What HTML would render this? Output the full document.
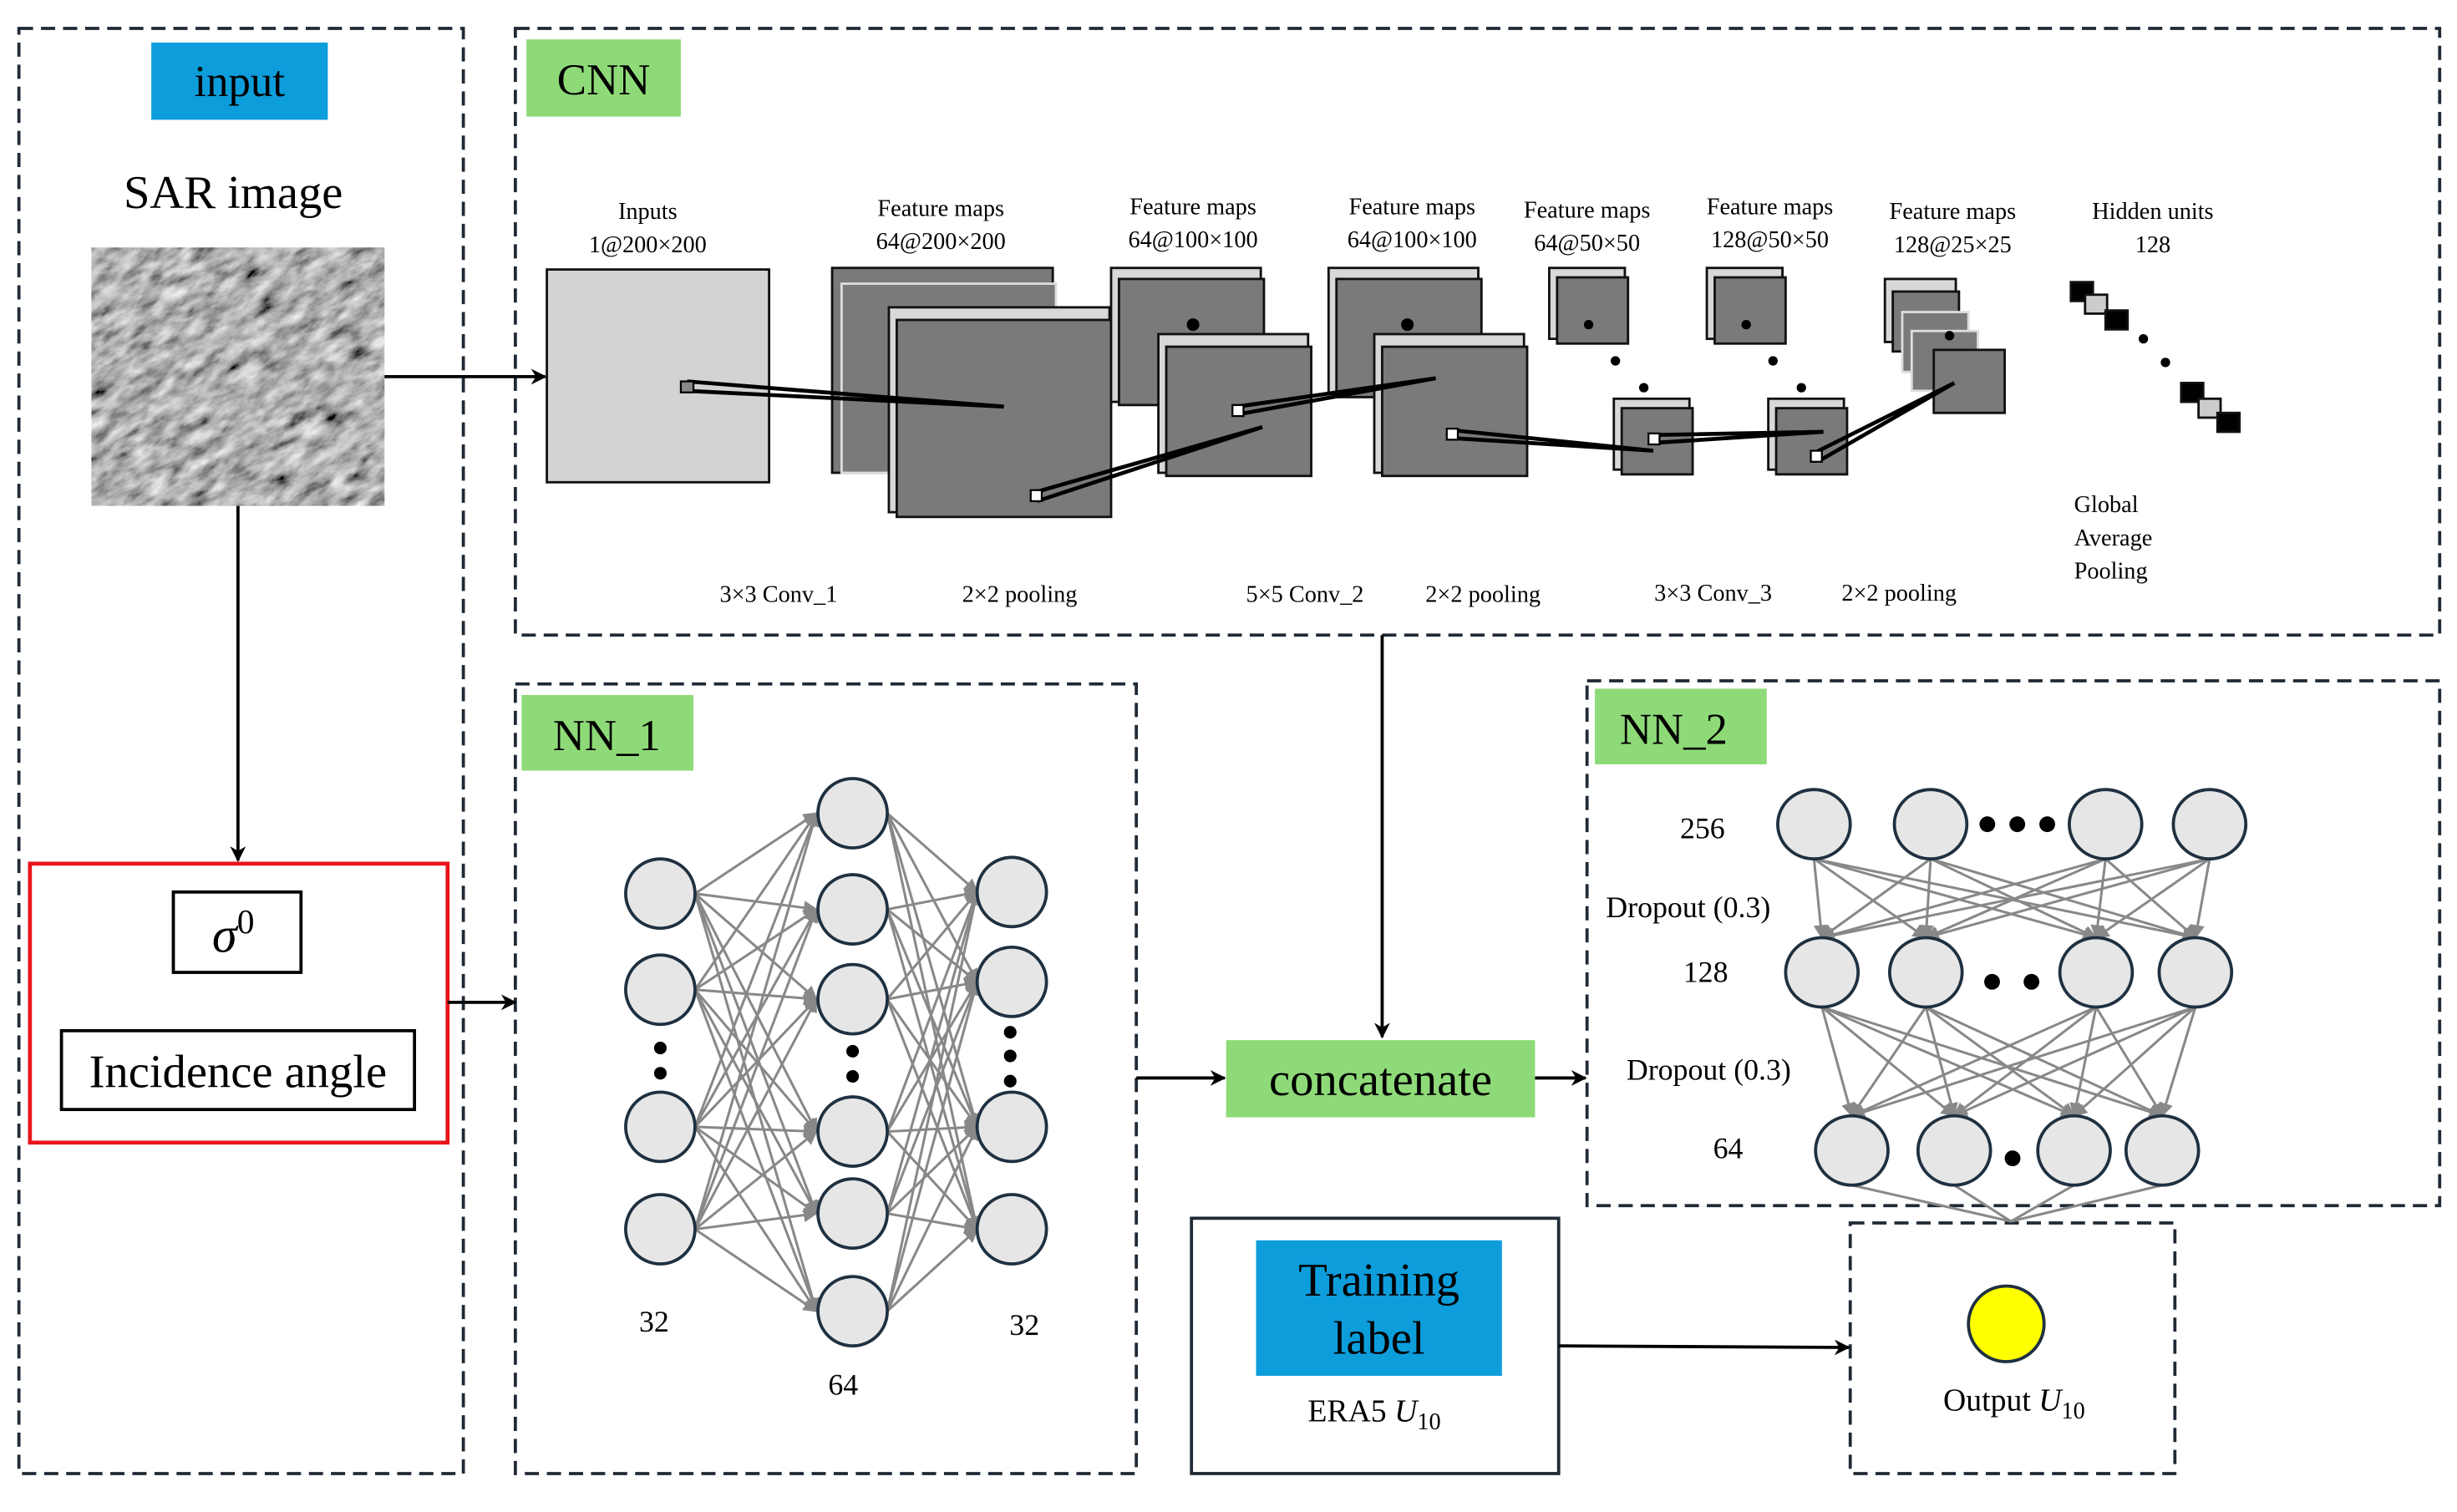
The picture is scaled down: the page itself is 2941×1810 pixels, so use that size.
<!DOCTYPE html>
<html><head><meta charset="utf-8">
<style>
html,body{margin:0;padding:0;background:#fff;}
svg{display:block;}
text{font-family:"Liberation Serif",serif;fill:#000;}
</style></head><body>
<svg width="2941" height="1810" viewBox="0 0 1559 959.4" preserveAspectRatio="none" xmlns="http://www.w3.org/2000/svg">
<defs>
<marker id="ah" markerWidth="10" markerHeight="10" refX="9" refY="5" orient="auto" markerUnits="userSpaceOnUse"><path d="M0,0 L10,5 L0,10 L3,5 z" fill="#000"/></marker>
<marker id="ag" markerWidth="9" markerHeight="9" refX="8" refY="4.5" orient="auto" markerUnits="userSpaceOnUse"><path d="M0,0 L9,4.5 L0,9 z" fill="#888"/></marker>
<filter id="noise" x="0" y="0" width="100%" height="100%">
<feTurbulence type="fractalNoise" baseFrequency="0.06 0.14" numOctaves="4" seed="7"/>
<feColorMatrix type="matrix" values="0.33 0.33 0.33 0 0  0.33 0.33 0.33 0 0  0.33 0.33 0.33 0 0  0 0 0 0 1"/>
<feComponentTransfer><feFuncR type="linear" slope="2.0" intercept="-0.55"/><feFuncG type="linear" slope="2.0" intercept="-0.55"/><feFuncB type="linear" slope="2.0" intercept="-0.55"/></feComponentTransfer>
</filter>
<clipPath id="sarclip"><rect x="58" y="157" width="186" height="164"/></clipPath>
</defs>
<rect width="1559" height="960" fill="#fff"/>
<g fill="none" stroke="#1f2a36" stroke-width="2" stroke-dasharray="9,5">
<rect x="12" y="18" width="282" height="917"/>
<rect x="327" y="18" width="1221" height="385"/>
<rect x="327" y="434" width="394" height="501"/>
<rect x="1007" y="432" width="541" height="333"/>
<rect x="1174" y="776" width="206" height="159"/>
</g>
<!-- input -->
<rect x="96" y="27" width="112" height="49" fill="#0d9ddb"/>
<text x="152" y="61" font-size="28" text-anchor="middle">input</text>
<text x="148" y="132" font-size="30" text-anchor="middle">SAR image</text>
<g clip-path="url(#sarclip)"><rect x="20" y="120" width="262" height="240" filter="url(#noise)" transform="rotate(-30 151 239)"/></g>
<line x1="151" y1="321" x2="151" y2="546" stroke="#000" stroke-width="2" marker-end="url(#ah)"/>
<line x1="244" y1="239" x2="346" y2="239" stroke="#000" stroke-width="2" marker-end="url(#ah)"/>
<rect x="19" y="548" width="265" height="177" fill="none" stroke="#e8141a" stroke-width="2.5"/>
<rect x="110" y="566" width="81" height="51" fill="#fff" stroke="#000" stroke-width="2"/>
<text x="148" y="604" font-size="32" text-anchor="middle" font-style="italic">σ<tspan font-size="22" dy="-12" font-style="normal">0</tspan></text>
<rect x="39" y="654" width="224" height="50" fill="#fff" stroke="#000" stroke-width="2"/>
<text x="151" y="690" font-size="30" text-anchor="middle">Incidence angle</text>
<line x1="284" y1="636" x2="327" y2="636" stroke="#000" stroke-width="2" marker-end="url(#ah)"/>
<!-- CNN -->
<rect x="334" y="25" width="98" height="49" fill="#8fda78"/>
<text x="383" y="60" font-size="28" text-anchor="middle">CNN</text>
<g font-size="15" text-anchor="middle">
<text x="411" y="139">Inputs</text><text x="411" y="160">1@200×200</text>
<text x="597" y="137">Feature maps</text><text x="597" y="158">64@200×200</text>
<text x="757" y="136">Feature maps</text><text x="757" y="157">64@100×100</text>
<text x="896" y="136">Feature maps</text><text x="896" y="157">64@100×100</text>
<text x="1007" y="138">Feature maps</text><text x="1007" y="159">64@50×50</text>
<text x="1123" y="136">Feature maps</text><text x="1123" y="157">128@50×50</text>
<text x="1239" y="139">Feature maps</text><text x="1239" y="160">128@25×25</text>
<text x="1366" y="139">Hidden units</text><text x="1366" y="160">128</text>
<text x="494" y="382">3×3 Conv_1</text><text x="647" y="382">2×2 pooling</text>
<text x="828" y="382">5×5 Conv_2</text><text x="941" y="382">2×2 pooling</text>
<text x="1087" y="381">3×3 Conv_3</text><text x="1205" y="381">2×2 pooling</text>
</g>
<g font-size="15"><text x="1316" y="325">Global</text><text x="1316" y="346">Average</text><text x="1316" y="367">Pooling</text></g>
<g stroke="#111" stroke-width="1.5">
<rect x="347" y="171" width="141" height="135" fill="#d3d3d3"/>
<rect x="528" y="170" width="140" height="130" fill="#7a7a7a"/>
<rect x="534" y="180" width="136" height="120" fill="#7a7a7a" stroke="#ddd"/>
<rect x="564" y="195" width="140" height="130" fill="#d8d8d8"/>
<rect x="569" y="203" width="136" height="125" fill="#7a7a7a"/>
<rect x="705" y="170" width="95" height="85" fill="#d8d8d8"/>
<rect x="710" y="177" width="92" height="80" fill="#7a7a7a"/>
<rect x="735" y="212" width="95" height="88" fill="#d8d8d8"/>
<rect x="740" y="220" width="92" height="82" fill="#7a7a7a"/>
<rect x="843" y="170" width="95" height="80" fill="#d8d8d8"/>
<rect x="848" y="177" width="92" height="75" fill="#7a7a7a"/>
<rect x="872" y="212" width="95" height="88" fill="#d8d8d8"/>
<rect x="877" y="220" width="92" height="82" fill="#7a7a7a"/>
<rect x="983" y="170" width="48" height="45" fill="#d8d8d8"/>
<rect x="988" y="176" width="45" height="42" fill="#7a7a7a"/>
<rect x="1024" y="253" width="48" height="45" fill="#d8d8d8"/>
<rect x="1029" y="259" width="45" height="42" fill="#7a7a7a"/>
<rect x="1083" y="170" width="48" height="45" fill="#d8d8d8"/>
<rect x="1088" y="176" width="45" height="42" fill="#7a7a7a"/>
<rect x="1122" y="253" width="48" height="45" fill="#d8d8d8"/>
<rect x="1127" y="259" width="45" height="42" fill="#7a7a7a"/>
<rect x="1196" y="177" width="45" height="40" fill="#d8d8d8"/>
<rect x="1201" y="185" width="42" height="38" fill="#7a7a7a"/>
<rect x="1207" y="198" width="42" height="38" fill="#7a7a7a" stroke="#ddd"/>
<rect x="1213" y="210" width="42" height="38" fill="#7a7a7a" stroke="#ddd"/>
<rect x="1227" y="222" width="45" height="40" fill="#7a7a7a"/>
</g>
<g fill="#000">
<circle cx="757" cy="206" r="4"/><circle cx="893" cy="206" r="4"/>
<circle cx="1008" cy="206" r="3"/><circle cx="1108" cy="206" r="3"/><circle cx="1237" cy="213" r="3"/>
<circle cx="1025" cy="229" r="3"/><circle cx="1043" cy="246" r="3"/>
<circle cx="1125" cy="229" r="3"/><circle cx="1143" cy="246" r="3"/>
<circle cx="1360" cy="215" r="3"/><circle cx="1374" cy="230" r="3"/>
</g>
<g stroke="#000" stroke-width="2.5" fill="none">
<polyline points="436,242 637,258 436,248"/>
<polyline points="658,312 801,271 658,318"/>
<polyline points="785,258 911,240 785,263"/>
<polyline points="922,273 1049,286 922,278"/>
<polyline points="1050,276 1157,274 1050,281"/>
<polyline points="1152,287 1240,243 1155,292"/>
</g>
<g stroke="#000" stroke-width="1.2" fill="#fff">
<rect x="432" y="242" width="8" height="7" fill="#888"/>
<rect x="654" y="311" width="7" height="7"/>
<rect x="782" y="257" width="7" height="7"/>
<rect x="918" y="272" width="7" height="7"/>
<rect x="1046" y="275" width="7" height="7"/>
<rect x="1149" y="286" width="7" height="7"/>
</g>
<g stroke="#111" stroke-width="1.5">
<rect x="1314" y="179" width="14" height="12" fill="#000"/>
<rect x="1323" y="187" width="14" height="12" fill="#ccc"/>
<rect x="1336" y="197" width="14" height="12" fill="#000"/>
<rect x="1384" y="243" width="14" height="12" fill="#000"/>
<rect x="1395" y="253" width="14" height="12" fill="#ccc"/>
<rect x="1407" y="262" width="14" height="12" fill="#000"/>
</g>
<line x1="877" y1="403" x2="877" y2="658" stroke="#000" stroke-width="2" marker-end="url(#ah)"/>
<!-- NN_1 -->
<rect x="331" y="441" width="109" height="48" fill="#8fda78"/>
<text x="385" y="476" font-size="28" text-anchor="middle">NN_1</text>
<g stroke="#888" stroke-width="1.6" marker-end="url(#ag)">
<line x1="441" y1="567" x2="518" y2="516"/><line x1="441" y1="567" x2="518" y2="577"/><line x1="441" y1="567" x2="518" y2="634"/><line x1="441" y1="567" x2="518" y2="718"/><line x1="441" y1="567" x2="518" y2="770"/><line x1="441" y1="567" x2="518" y2="832"/>
<line x1="441" y1="628" x2="518" y2="516"/><line x1="441" y1="628" x2="518" y2="577"/><line x1="441" y1="628" x2="518" y2="634"/><line x1="441" y1="628" x2="518" y2="718"/><line x1="441" y1="628" x2="518" y2="770"/><line x1="441" y1="628" x2="518" y2="832"/>
<line x1="441" y1="715" x2="518" y2="516"/><line x1="441" y1="715" x2="518" y2="577"/><line x1="441" y1="715" x2="518" y2="634"/><line x1="441" y1="715" x2="518" y2="718"/><line x1="441" y1="715" x2="518" y2="770"/><line x1="441" y1="715" x2="518" y2="832"/>
<line x1="441" y1="780" x2="518" y2="516"/><line x1="441" y1="780" x2="518" y2="577"/><line x1="441" y1="780" x2="518" y2="634"/><line x1="441" y1="780" x2="518" y2="718"/><line x1="441" y1="780" x2="518" y2="770"/><line x1="441" y1="780" x2="518" y2="832"/>
<line x1="563" y1="516" x2="620" y2="566"/><line x1="563" y1="516" x2="620" y2="623"/><line x1="563" y1="516" x2="620" y2="715"/><line x1="563" y1="516" x2="620" y2="780"/>
<line x1="563" y1="577" x2="620" y2="566"/><line x1="563" y1="577" x2="620" y2="623"/><line x1="563" y1="577" x2="620" y2="715"/><line x1="563" y1="577" x2="620" y2="780"/>
<line x1="563" y1="634" x2="620" y2="566"/><line x1="563" y1="634" x2="620" y2="623"/><line x1="563" y1="634" x2="620" y2="715"/><line x1="563" y1="634" x2="620" y2="780"/>
<line x1="563" y1="718" x2="620" y2="566"/><line x1="563" y1="718" x2="620" y2="623"/><line x1="563" y1="718" x2="620" y2="715"/><line x1="563" y1="718" x2="620" y2="780"/>
<line x1="563" y1="770" x2="620" y2="566"/><line x1="563" y1="770" x2="620" y2="623"/><line x1="563" y1="770" x2="620" y2="715"/><line x1="563" y1="770" x2="620" y2="780"/>
<line x1="563" y1="832" x2="620" y2="566"/><line x1="563" y1="832" x2="620" y2="623"/><line x1="563" y1="832" x2="620" y2="715"/><line x1="563" y1="832" x2="620" y2="780"/>
</g>
<g fill="#e6e6e6" stroke="#1f3040" stroke-width="2">
<circle cx="419" cy="567" r="22"/><circle cx="419" cy="628" r="22"/><circle cx="419" cy="715" r="22"/><circle cx="419" cy="780" r="22"/>
<circle cx="541" cy="516" r="22"/><circle cx="541" cy="577" r="22"/><circle cx="541" cy="634" r="22"/><circle cx="541" cy="718" r="22"/><circle cx="541" cy="770" r="22"/><circle cx="541" cy="832" r="22"/>
<circle cx="642" cy="566" r="22"/><circle cx="642" cy="623" r="22"/><circle cx="642" cy="715" r="22"/><circle cx="642" cy="780" r="22"/>
</g>
<g fill="#000">
<circle cx="419" cy="665" r="4"/><circle cx="419" cy="681" r="4"/>
<circle cx="541" cy="667" r="4"/><circle cx="541" cy="683" r="4"/>
<circle cx="641" cy="655" r="4"/><circle cx="641" cy="670" r="4"/><circle cx="641" cy="686" r="4"/>
</g>
<g font-size="19" text-anchor="middle"><text x="415" y="845">32</text><text x="650" y="847">32</text><text x="535" y="885">64</text></g>
<!-- concatenate -->
<line x1="721" y1="684" x2="777" y2="684" stroke="#000" stroke-width="2" marker-end="url(#ah)"/>
<rect x="778" y="660" width="196" height="49" fill="#8fda78"/>
<text x="876" y="695" font-size="30" text-anchor="middle">concatenate</text>
<line x1="974" y1="684" x2="1006" y2="684" stroke="#000" stroke-width="2" marker-end="url(#ah)"/>
<!-- NN_2 -->
<rect x="1012" y="437" width="109" height="48" fill="#8fda78"/>
<text x="1062" y="472" font-size="28" text-anchor="middle">NN_2</text>
<g font-size="19">
<text x="1066" y="532">256</text><text x="1019" y="582">Dropout (0.3)</text>
<text x="1068" y="623">128</text><text x="1032" y="685">Dropout (0.3)</text>
<text x="1087" y="735">64</text>
</g>
<g stroke="#888" stroke-width="1.6" marker-end="url(#ag)">
<line x1="1151" y1="545" x2="1156" y2="595"/><line x1="1151" y1="545" x2="1222" y2="595"/><line x1="1151" y1="545" x2="1330" y2="595"/><line x1="1151" y1="545" x2="1393" y2="595"/>
<line x1="1225" y1="545" x2="1156" y2="595"/><line x1="1225" y1="545" x2="1222" y2="595"/><line x1="1225" y1="545" x2="1330" y2="595"/><line x1="1225" y1="545" x2="1393" y2="595"/>
<line x1="1336" y1="545" x2="1156" y2="595"/><line x1="1336" y1="545" x2="1222" y2="595"/><line x1="1336" y1="545" x2="1330" y2="595"/><line x1="1336" y1="545" x2="1393" y2="595"/>
<line x1="1402" y1="545" x2="1156" y2="595"/><line x1="1402" y1="545" x2="1222" y2="595"/><line x1="1402" y1="545" x2="1330" y2="595"/><line x1="1402" y1="545" x2="1393" y2="595"/>
<line x1="1156" y1="639" x2="1175" y2="708"/><line x1="1156" y1="639" x2="1240" y2="708"/><line x1="1156" y1="639" x2="1316" y2="708"/><line x1="1156" y1="639" x2="1372" y2="708"/>
<line x1="1222" y1="639" x2="1175" y2="708"/><line x1="1222" y1="639" x2="1240" y2="708"/><line x1="1222" y1="639" x2="1316" y2="708"/><line x1="1222" y1="639" x2="1372" y2="708"/>
<line x1="1330" y1="639" x2="1175" y2="708"/><line x1="1330" y1="639" x2="1240" y2="708"/><line x1="1330" y1="639" x2="1316" y2="708"/><line x1="1330" y1="639" x2="1372" y2="708"/>
<line x1="1393" y1="639" x2="1175" y2="708"/><line x1="1393" y1="639" x2="1240" y2="708"/><line x1="1393" y1="639" x2="1316" y2="708"/><line x1="1393" y1="639" x2="1372" y2="708"/>
</g>
<g stroke="#888" stroke-width="1.6">
<line x1="1175" y1="752" x2="1276" y2="775"/><line x1="1240" y1="752" x2="1276" y2="775"/><line x1="1316" y1="752" x2="1276" y2="775"/><line x1="1372" y1="752" x2="1276" y2="775"/>
</g>
<g fill="#e6e6e6" stroke="#1f3040" stroke-width="2">
<ellipse cx="1151" cy="523" rx="23" ry="22"/><ellipse cx="1225" cy="523" rx="23" ry="22"/><ellipse cx="1336" cy="523" rx="23" ry="22"/><ellipse cx="1402" cy="523" rx="23" ry="22"/>
<ellipse cx="1156" cy="617" rx="23" ry="22"/><ellipse cx="1222" cy="617" rx="23" ry="22"/><ellipse cx="1330" cy="617" rx="23" ry="22"/><ellipse cx="1393" cy="617" rx="23" ry="22"/>
<ellipse cx="1175" cy="730" rx="23" ry="22"/><ellipse cx="1240" cy="730" rx="23" ry="22"/><ellipse cx="1316" cy="730" rx="23" ry="22"/><ellipse cx="1372" cy="730" rx="23" ry="22"/>
</g>
<g fill="#000">
<circle cx="1261" cy="523" r="5"/><circle cx="1280" cy="523" r="5"/><circle cx="1299" cy="523" r="5"/>
<circle cx="1264" cy="623" r="5"/><circle cx="1289" cy="623" r="5"/>
<circle cx="1277" cy="735" r="5"/>
</g>
<!-- Training label -->
<rect x="756" y="773" width="233" height="162" fill="none" stroke="#1f2a36" stroke-width="2"/>
<rect x="797" y="787" width="156" height="86" fill="#0d9ddb"/>
<text x="875" y="822" font-size="30" text-anchor="middle">Training</text>
<text x="875" y="859" font-size="30" text-anchor="middle">label</text>
<text x="872" y="902" font-size="20" text-anchor="middle">ERA5 <tspan font-style="italic">U</tspan><tspan font-size="15" dy="5">10</tspan></text>
<line x1="989" y1="854" x2="1173" y2="855" stroke="#000" stroke-width="2" marker-end="url(#ah)"/>
<circle cx="1273" cy="840" r="24" fill="#ffff00" stroke="#1f3040" stroke-width="2"/>
<text x="1278" y="895" font-size="20" text-anchor="middle">Output <tspan font-style="italic">U</tspan><tspan font-size="15" dy="5">10</tspan></text>
</svg>
</body></html>
